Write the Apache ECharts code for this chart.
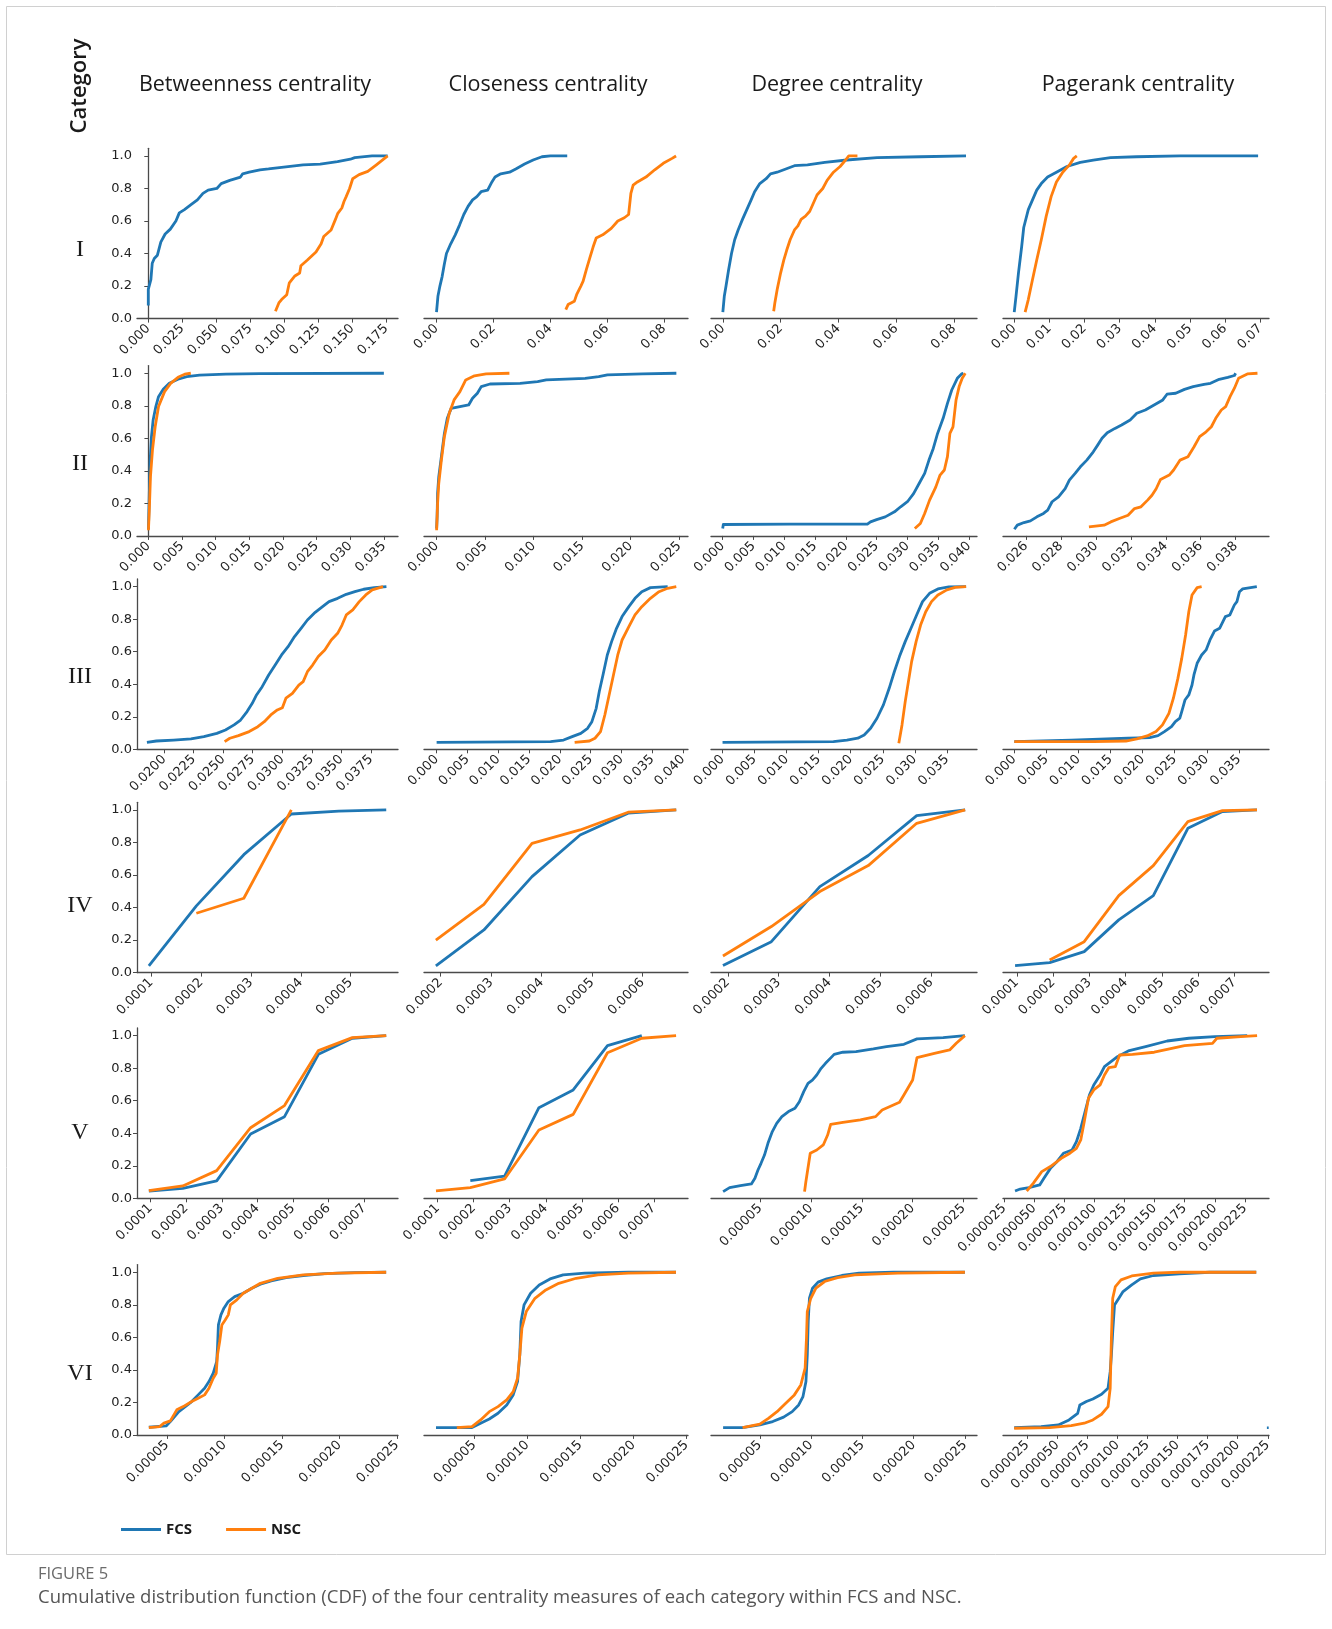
<!DOCTYPE html>
<html><head><meta charset="utf-8">
<script src="https://cdn.jsdelivr.net/npm/echarts@6/dist/echarts.min.js"></script>
<style>html,body{margin:0;padding:0;background:#fff}#c{width:1332px;height:1629px}</style>
</head><body><div id="c"></div><script>
const columnTitles = ['Betweenness centrality','Closeness centrality','Degree centrality','Pagerank centrality'];
const rowLabels = ['I','II','III','IV','V','VI'];
const seriesNames = ['FCS','NSC'];
const yTicks = [0,0.2,0.4,0.6,0.8,1.0];

// ---- tick label values ----
const ticksI1 = [0,0.025,0.05,0.075,0.1,0.125,0.15,0.175];
const ticksI2 = [0,0.02,0.04,0.06,0.08];
const ticksI3 = [0,0.02,0.04,0.06,0.08];
const ticksI4 = [0,0.01,0.02,0.03,0.04,0.05,0.06,0.07];
const ticksII1 = [0,0.005,0.01,0.015,0.02,0.025,0.03,0.035];
const ticksII2 = [0,0.005,0.01,0.015,0.02,0.025];
const ticksII3 = [0,0.005,0.01,0.015,0.02,0.025,0.03,0.035,0.04];
const ticksII4 = [0.026,0.028,0.03,0.032,0.034,0.036,0.038];
const ticksIII1 = [0.02,0.0225,0.025,0.0275,0.03,0.0325,0.035,0.0375];
const ticksIII2 = [0,0.005,0.01,0.015,0.02,0.025,0.03,0.035,0.04];
const ticksIII3 = [0,0.005,0.01,0.015,0.02,0.025,0.03,0.035];
const ticksIII4 = [0,0.005,0.01,0.015,0.02,0.025,0.03,0.035];
const ticksIV1 = [0.0001,0.0002,0.0003,0.0004,0.0005];
const ticksIV2 = [0.0002,0.0003,0.0004,0.0005,0.0006];
const ticksIV3 = [0.0002,0.0003,0.0004,0.0005,0.0006];
const ticksIV4 = [0.0001,0.0002,0.0003,0.0004,0.0005,0.0006,0.0007];
const ticksV1 = [0.0001,0.0002,0.0003,0.0004,0.0005,0.0006,0.0007];
const ticksV2 = [0.0001,0.0002,0.0003,0.0004,0.0005,0.0006,0.0007];
const ticksV3 = [0.00005,0.0001,0.00015,0.0002,0.00025];
const ticksV4 = [0.000025,0.00005,0.000075,0.0001,0.000125,0.00015,0.000175,0.0002,0.000225];
const ticksVI1 = [0.00005,0.0001,0.00015,0.0002,0.00025];
const ticksVI2 = [0.00005,0.0001,0.00015,0.0002,0.00025];
const ticksVI3 = [0.00005,0.0001,0.00015,0.0002,0.00025];
const ticksVI4 = [0.000025,0.00005,0.000075,0.0001,0.000125,0.00015,0.000175,0.0002,0.000225];

// ---- CDF data [value, cumulative share] ----
const fcsI1 = [[0,0.08],[0,0.18],[0.0019,0.24],[0.0029,0.34],[0.0044,0.37],[0.0067,0.39],[0.0092,0.47],[0.0124,0.52],[0.0162,0.55],[0.0203,0.6],[0.0228,0.65],[0.0266,0.67],[0.0314,0.7],[0.0361,0.73],[0.0402,0.77],[0.044,0.79],[0.0504,0.8],[0.0536,0.83],[0.0599,0.85],[0.0678,0.87],[0.0694,0.89],[0.0742,0.9],[0.0821,0.915],[0.0884,0.92],[0.098,0.93],[0.1138,0.945],[0.1264,0.95],[0.1391,0.965],[0.1486,0.98],[0.1518,0.99],[0.1645,1.0],[0.176,1.0]];
const nscI1 = [[0.0935,0.045],[0.096,0.096],[0.098,0.117],[0.1018,0.147],[0.1037,0.22],[0.1075,0.26],[0.1113,0.28],[0.1122,0.325],[0.117,0.36],[0.1233,0.41],[0.1271,0.46],[0.129,0.505],[0.1344,0.545],[0.1376,0.61],[0.1392,0.645],[0.1423,0.68],[0.1439,0.72],[0.1455,0.75],[0.148,0.8],[0.1503,0.86],[0.155,0.885],[0.1614,0.905],[0.1677,0.945],[0.176,1.0]];
const fcsI2 = [[0,0.04],[0.0005,0.137],[0.0012,0.2],[0.002,0.26],[0.0027,0.33],[0.0035,0.4],[0.005,0.46],[0.0066,0.515],[0.0081,0.575],[0.0096,0.64],[0.0111,0.69],[0.0127,0.73],[0.0142,0.75],[0.0157,0.78],[0.018,0.79],[0.0195,0.84],[0.0206,0.87],[0.0226,0.89],[0.0257,0.9],[0.0279,0.92],[0.031,0.95],[0.034,0.975],[0.0371,0.995],[0.0401,1.0],[0.046,1.0]];
const nscI2 = [[0.0455,0.055],[0.0463,0.086],[0.0485,0.106],[0.0493,0.147],[0.0508,0.2],[0.0516,0.23],[0.0527,0.3],[0.0539,0.37],[0.0551,0.44],[0.0562,0.495],[0.0585,0.515],[0.0615,0.555],[0.0638,0.6],[0.0661,0.62],[0.0676,0.64],[0.0684,0.77],[0.0692,0.82],[0.0707,0.84],[0.0737,0.87],[0.0768,0.915],[0.0798,0.955],[0.0829,0.985],[0.0843,1.0]];
const fcsI3 = [[0,0.04],[0.0005,0.137],[0.0011,0.2],[0.002,0.3],[0.003,0.4],[0.0041,0.485],[0.0053,0.545],[0.0068,0.61],[0.0083,0.67],[0.0098,0.73],[0.011,0.78],[0.0128,0.83],[0.015,0.86],[0.0165,0.89],[0.0188,0.9],[0.0218,0.92],[0.0248,0.94],[0.0293,0.945],[0.0353,0.96],[0.0429,0.975],[0.0534,0.99],[0.0684,0.995],[0.0842,1.0]];
const nscI3 = [[0.0176,0.045],[0.018,0.096],[0.0188,0.178],[0.02,0.28],[0.0211,0.36],[0.0221,0.42],[0.0233,0.485],[0.0248,0.545],[0.026,0.57],[0.0271,0.61],[0.0286,0.63],[0.0301,0.66],[0.0316,0.72],[0.0326,0.76],[0.0346,0.8],[0.0361,0.85],[0.0383,0.9],[0.0406,0.935],[0.0425,0.975],[0.0436,1.0],[0.0466,1.0]];
const fcsI4 = [[0,0.04],[0.0005,0.137],[0.0012,0.28],[0.0021,0.44],[0.0027,0.56],[0.004,0.67],[0.0052,0.73],[0.0064,0.79],[0.0077,0.83],[0.0095,0.87],[0.012,0.9],[0.015,0.935],[0.0188,0.96],[0.0225,0.975],[0.0274,0.99],[0.0348,0.995],[0.0472,1.0],[0.0694,1.0]];
const nscI4 = [[0.0031,0.04],[0.004,0.117],[0.0052,0.24],[0.0064,0.36],[0.0077,0.485],[0.0091,0.63],[0.0105,0.75],[0.012,0.84],[0.0138,0.9],[0.0157,0.945],[0.0169,0.985],[0.0178,1.0]];

const fcsII1 = [[0,0.041],[0.00013,0.261],[0.00026,0.466],[0.00045,0.61],[0.0007,0.713],[0.0011,0.795],[0.0015,0.856],[0.0022,0.901],[0.0031,0.938],[0.0044,0.963],[0.0057,0.979],[0.0076,0.988],[0.0115,0.994],[0.0166,0.998],[0.035,1.0]];
const nscII1 = [[0,0.035],[0.00013,0.158],[0.0003,0.363],[0.0006,0.528],[0.001,0.671],[0.0015,0.795],[0.0024,0.887],[0.0033,0.938],[0.0044,0.975],[0.0054,0.994],[0.0063,1.0]];
const fcsII2 = [[0,0.045],[0.00005,0.117],[0.0001,0.261],[0.00022,0.363],[0.00049,0.487],[0.0008,0.63],[0.0011,0.723],[0.0015,0.784],[0.0024,0.795],[0.0033,0.805],[0.0037,0.846],[0.0042,0.877],[0.0046,0.918],[0.0055,0.934],[0.0086,0.938],[0.0104,0.949],[0.0113,0.959],[0.0153,0.969],[0.0167,0.979],[0.0176,0.99],[0.0212,0.996],[0.0247,1.0]];
const nscII2 = [[0,0.035],[0.0001,0.2],[0.00022,0.322],[0.00049,0.466],[0.0008,0.61],[0.0013,0.754],[0.0018,0.836],[0.0024,0.887],[0.003,0.959],[0.0039,0.984],[0.0051,0.996],[0.0075,1.0]];
const fcsII3 = [[0,0.045],[0.0001,0.07],[0.0109,0.072],[0.0235,0.072],[0.024,0.086],[0.025,0.1],[0.0264,0.117],[0.0279,0.148],[0.0289,0.179],[0.03,0.21],[0.031,0.26],[0.0319,0.322],[0.0328,0.384],[0.0335,0.466],[0.0342,0.538],[0.0349,0.63],[0.0358,0.723],[0.0365,0.815],[0.0372,0.897],[0.0381,0.969],[0.0388,0.996],[0.0391,1.0]];
const nscII3 = [[0.0312,0.045],[0.0321,0.076],[0.0328,0.138],[0.0336,0.22],[0.0346,0.3],[0.0353,0.374],[0.036,0.405],[0.0365,0.487],[0.0369,0.63],[0.0374,0.67],[0.0377,0.68],[0.0379,0.836],[0.0384,0.918],[0.0389,0.969],[0.0394,1.0]];
const fcsII4 = [[0.02533,0.041],[0.0255,0.066],[0.02588,0.082],[0.02625,0.092],[0.02662,0.117],[0.027,0.138],[0.02724,0.158],[0.02749,0.21],[0.02786,0.24],[0.02824,0.29],[0.02848,0.343],[0.02881,0.384],[0.02911,0.425],[0.02948,0.466],[0.02985,0.517],[0.0301,0.558],[0.03035,0.6],[0.03065,0.634],[0.03109,0.661],[0.03147,0.682],[0.03196,0.713],[0.03234,0.754],[0.03283,0.774],[0.03333,0.805],[0.03383,0.836],[0.03407,0.871],[0.03457,0.877],[0.03507,0.901],[0.03557,0.918],[0.03619,0.932],[0.03656,0.938],[0.03706,0.963],[0.03755,0.975],[0.03793,0.986],[0.038,0.986],[0.038,1.0]];
const nscII4 = [[0.0296,0.055],[0.03047,0.066],[0.03085,0.086],[0.03134,0.107],[0.03184,0.127],[0.03221,0.168],[0.03258,0.179],[0.03296,0.22],[0.03321,0.25],[0.03345,0.29],[0.0337,0.347],[0.0342,0.374],[0.03445,0.405],[0.03482,0.466],[0.03527,0.487],[0.03562,0.548],[0.03594,0.61],[0.03631,0.64],[0.03661,0.671],[0.03686,0.723],[0.03718,0.774],[0.03743,0.795],[0.03768,0.856],[0.03793,0.908],[0.03817,0.969],[0.03867,0.996],[0.03925,1.0]];

const fcsIII1 = [[0.01854,0.043],[0.01934,0.051],[0.0208,0.057],[0.02227,0.064],[0.02336,0.078],[0.02446,0.098],[0.02519,0.119],[0.02592,0.15],[0.02647,0.18],[0.02702,0.232],[0.02746,0.283],[0.02782,0.334],[0.0283,0.385],[0.02885,0.457],[0.0294,0.518],[0.02994,0.58],[0.03049,0.631],[0.03104,0.693],[0.03159,0.744],[0.03213,0.795],[0.03279,0.842],[0.03341,0.877],[0.03396,0.908],[0.03469,0.928],[0.03542,0.953],[0.03615,0.969],[0.03689,0.984],[0.0378,0.994],[0.03882,1.0]];
const nscIII1 = [[0.02512,0.047],[0.02556,0.068],[0.02629,0.084],[0.0272,0.109],[0.02793,0.139],[0.02848,0.17],[0.02903,0.211],[0.02958,0.242],[0.03001,0.256],[0.03031,0.314],[0.03086,0.344],[0.0314,0.395],[0.03177,0.416],[0.03213,0.477],[0.03257,0.518],[0.03305,0.57],[0.0336,0.611],[0.03415,0.672],[0.03469,0.713],[0.03506,0.764],[0.03542,0.826],[0.03597,0.857],[0.03652,0.908],[0.03707,0.949],[0.03762,0.98],[0.03853,1.0]];
const fcsIII2 = [[0,0.043],[0.0185,0.047],[0.0206,0.057],[0.022,0.078],[0.0234,0.098],[0.0245,0.129],[0.0252,0.17],[0.0259,0.252],[0.0264,0.355],[0.027,0.457],[0.0277,0.58],[0.0284,0.662],[0.0292,0.744],[0.0301,0.816],[0.0312,0.877],[0.0322,0.928],[0.0333,0.969],[0.0347,0.994],[0.0375,1.0]];
const nscIII2 = [[0.0224,0.043],[0.0248,0.051],[0.0257,0.068],[0.0266,0.109],[0.0273,0.211],[0.028,0.334],[0.0287,0.457],[0.0294,0.58],[0.0301,0.672],[0.0312,0.754],[0.0322,0.826],[0.0333,0.877],[0.0347,0.928],[0.0361,0.969],[0.0375,0.99],[0.0389,1.0]];
const fcsIII3 = [[0,0.043],[0.0173,0.047],[0.0194,0.057],[0.0211,0.068],[0.0221,0.088],[0.0231,0.129],[0.0241,0.191],[0.0251,0.273],[0.026,0.375],[0.0268,0.477],[0.0276,0.57],[0.0285,0.662],[0.0294,0.744],[0.0304,0.836],[0.0312,0.908],[0.0323,0.959],[0.0336,0.986],[0.0353,0.998],[0.038,1.0]];
const nscIII3 = [[0.0275,0.037],[0.028,0.15],[0.0285,0.293],[0.029,0.416],[0.0295,0.539],[0.0302,0.662],[0.0309,0.764],[0.0317,0.846],[0.0326,0.908],[0.0336,0.949],[0.035,0.98],[0.0363,0.996],[0.038,1.0]];
const fcsIII4 = [[0,0.047],[0.0089,0.057],[0.0177,0.068],[0.0211,0.072],[0.0224,0.084],[0.0234,0.109],[0.0245,0.139],[0.0251,0.17],[0.0258,0.191],[0.0261,0.232],[0.0266,0.303],[0.0272,0.334],[0.0277,0.395],[0.028,0.457],[0.0285,0.529],[0.0292,0.58],[0.0299,0.611],[0.0305,0.672],[0.0312,0.727],[0.032,0.744],[0.0329,0.816],[0.0336,0.826],[0.0343,0.887],[0.0347,0.908],[0.0351,0.969],[0.0356,0.986],[0.0378,1.0]];
const nscIII4 = [[0,0.047],[0.0123,0.047],[0.0174,0.051],[0.0191,0.064],[0.0207,0.082],[0.0221,0.109],[0.0231,0.15],[0.0241,0.221],[0.0248,0.314],[0.0255,0.436],[0.0261,0.559],[0.0267,0.703],[0.0272,0.846],[0.0277,0.949],[0.0285,0.994],[0.0292,1.0]];

const fcsIV1 = [[0.0000952,0.041],[0.0001905,0.41],[0.0002857,0.725],[0.000381,0.975],[0.0004762,0.993],[0.0005714,1.0]];
const nscIV1 = [[0.0001905,0.365],[0.0002857,0.457],[0.000381,1.0]];
const fcsIV2 = [[0.0001905,0.041],[0.0002857,0.262],[0.000381,0.59],[0.0004762,0.846],[0.0005714,0.98],[0.0006667,1.0]];
const nscIV2 = [[0.0001905,0.2],[0.0002857,0.42],[0.000381,0.795],[0.0004762,0.877],[0.0005714,0.986],[0.0006667,1.0]];
const fcsIV3 = [[0.0001905,0.043],[0.0002857,0.19],[0.000381,0.529],[0.0004762,0.72],[0.0005714,0.965],[0.0006667,1.0]];
const nscIV3 = [[0.0001905,0.102],[0.0002857,0.283],[0.000381,0.498],[0.0004762,0.658],[0.0005714,0.918],[0.0006667,1.0]];
const fcsIV4 = [[0.0000952,0.043],[0.0001905,0.061],[0.0002857,0.129],[0.000381,0.324],[0.0004762,0.473],[0.0005714,0.887],[0.0006667,0.99],[0.0007619,1.0]];
const nscIV4 = [[0.0001905,0.078],[0.0002857,0.19],[0.000381,0.473],[0.0004762,0.658],[0.0005714,0.928],[0.0006667,0.996],[0.0007619,1.0]];

const fcsV1 = [[0.0000952,0.045],[0.0001905,0.061],[0.0002857,0.107],[0.000381,0.395],[0.0004762,0.502],[0.0005714,0.885],[0.0006667,0.984],[0.0007619,1.0]];
const nscV1 = [[0.0000952,0.047],[0.0001905,0.076],[0.0002857,0.17],[0.000381,0.434],[0.0004762,0.57],[0.0005714,0.908],[0.0006667,0.988],[0.0007619,1.0]];
const fcsV2 = [[0.0001905,0.109],[0.0002857,0.137],[0.000381,0.557],[0.0004762,0.666],[0.0005714,0.939],[0.0006667,1.0]];
const nscV2 = [[0.0000952,0.045],[0.0001905,0.066],[0.0002857,0.119],[0.000381,0.42],[0.0004762,0.516],[0.0005714,0.895],[0.0006667,0.984],[0.0007619,1.0]];
const fcsV3 = [[0.0000136,0.041],[0.00002,0.066],[0.0000307,0.078],[0.0000414,0.088],[0.0000449,0.123],[0.0000479,0.174],[0.0000509,0.215],[0.0000543,0.266],[0.0000577,0.338],[0.000062,0.41],[0.0000663,0.461],[0.0000714,0.502],[0.0000779,0.533],[0.0000843,0.553],[0.0000886,0.594],[0.0000929,0.656],[0.0000971,0.707],[0.0001014,0.727],[0.0001057,0.758],[0.00011,0.799],[0.0001143,0.83],[0.0001207,0.871],[0.0001228,0.885],[0.0001314,0.898],[0.0001443,0.902],[0.0001614,0.918],[0.0001743,0.932],[0.0001914,0.947],[0.0002043,0.98],[0.00023,0.988],[0.0002514,1.0]];
const nscV3 = [[0.0000937,0.041],[0.000095,0.102],[0.0000993,0.277],[0.0001057,0.297],[0.0001121,0.328],[0.0001164,0.389],[0.0001194,0.455],[0.0001314,0.467],[0.0001486,0.482],[0.0001636,0.502],[0.00017,0.543],[0.0001871,0.59],[0.0001914,0.635],[0.0002,0.727],[0.0002043,0.865],[0.0002214,0.891],[0.0002364,0.912],[0.0002429,0.953],[0.0002514,1.0]];
const fcsV4 = [[0.000034,0.045],[0.0000383,0.057],[0.0000455,0.066],[0.0000545,0.082],[0.000058,0.123],[0.0000634,0.184],[0.0000688,0.225],[0.0000742,0.277],[0.0000814,0.297],[0.000085,0.348],[0.0000886,0.43],[0.0000922,0.533],[0.0000958,0.635],[0.0000994,0.697],[0.0001047,0.758],[0.0001083,0.809],[0.0001137,0.84],[0.0001191,0.871],[0.0001281,0.906],[0.0001425,0.932],[0.0001604,0.967],[0.0001784,0.984],[0.0002,0.994],[0.0002269,1.0]];
const nscV4 = [[0.0000437,0.045],[0.0000491,0.092],[0.0000562,0.164],[0.0000634,0.195],[0.0000724,0.246],[0.0000796,0.277],[0.000085,0.307],[0.0000886,0.359],[0.0000915,0.471],[0.000095,0.615],[0.0000994,0.666],[0.0001047,0.697],[0.0001083,0.758],[0.0001119,0.803],[0.0001173,0.809],[0.0001209,0.881],[0.0001316,0.885],[0.0001496,0.898],[0.0001604,0.916],[0.0001748,0.939],[0.0001981,0.953],[0.0002017,0.984],[0.0002215,0.994],[0.0002351,1.0]];

const fcsVI1 = [[0.0000343,0.047],[0.0000493,0.055],[0.000053,0.082],[0.0000567,0.113],[0.0000604,0.143],[0.000066,0.174],[0.0000716,0.205],[0.0000772,0.246],[0.0000828,0.287],[0.0000866,0.328],[0.0000903,0.379],[0.0000933,0.451],[0.000094,0.533],[0.0000948,0.676],[0.000097,0.738],[0.0000996,0.779],[0.0001034,0.82],[0.000109,0.85],[0.0001164,0.871],[0.0001239,0.902],[0.0001313,0.926],[0.0001407,0.947],[0.0001537,0.967],[0.0001686,0.98],[0.0001873,0.992],[0.0002134,0.998],[0.0002407,1.0]];
const nscVI1 = [[0.0000343,0.045],[0.0000437,0.051],[0.0000474,0.072],[0.000053,0.086],[0.0000586,0.154],[0.0000642,0.174],[0.0000716,0.205],[0.0000772,0.225],[0.0000828,0.246],[0.0000866,0.287],[0.0000903,0.348],[0.0000929,0.379],[0.000094,0.492],[0.0000959,0.574],[0.0000978,0.676],[0.0001007,0.707],[0.0001034,0.738],[0.0001052,0.799],[0.0001108,0.83],[0.0001164,0.871],[0.0001239,0.902],[0.0001313,0.932],[0.0001463,0.963],[0.0001686,0.984],[0.0001985,0.994],[0.0002407,1.0]];
const fcsVI2 = [[0.0000141,0.045],[0.000048,0.045],[0.0000561,0.072],[0.0000643,0.098],[0.0000725,0.133],[0.0000807,0.184],[0.0000868,0.246],[0.0000909,0.328],[0.000093,0.492],[0.0000942,0.697],[0.000097,0.799],[0.0001032,0.871],[0.0001113,0.922],[0.0001215,0.959],[0.0001338,0.984],[0.0001542,0.994],[0.0001951,1.0],[0.0002401,1.0]];
const nscVI2 = [[0.0000337,0.045],[0.000048,0.051],[0.0000561,0.092],[0.0000643,0.143],[0.0000725,0.174],[0.0000807,0.215],[0.0000868,0.266],[0.0000909,0.348],[0.000093,0.492],[0.000095,0.656],[0.0000991,0.758],[0.0001073,0.84],[0.0001175,0.891],[0.0001297,0.932],[0.0001461,0.963],[0.0001665,0.984],[0.0001951,0.994],[0.0002401,1.0]];
const fcsVI3 = [[0.0000142,0.045],[0.0000332,0.045],[0.00005,0.061],[0.0000626,0.082],[0.0000732,0.109],[0.0000816,0.143],[0.0000879,0.184],[0.0000921,0.236],[0.000095,0.328],[0.0000963,0.492],[0.0000972,0.697],[0.0000984,0.84],[0.0001014,0.902],[0.0001068,0.939],[0.0001153,0.959],[0.00013,0.98],[0.0001468,0.994],[0.0001805,1.0],[0.00025,1.0]];
const nscVI3 = [[0.0000332,0.045],[0.00005,0.066],[0.0000584,0.102],[0.0000668,0.143],[0.0000753,0.195],[0.0000837,0.246],[0.00009,0.307],[0.0000942,0.41],[0.0000955,0.594],[0.0000963,0.758],[0.0000997,0.84],[0.0001047,0.902],[0.0001132,0.943],[0.0001258,0.967],[0.0001426,0.984],[0.0001847,0.994],[0.00025,1.0]];
const fcsVI4 = [[0.0000142,0.045],[0.0000365,0.051],[0.0000509,0.061],[0.0000598,0.092],[0.000067,0.133],[0.0000688,0.184],[0.0000742,0.205],[0.0000796,0.221],[0.0000868,0.25],[0.0000922,0.287],[0.000094,0.389],[0.000095,0.492],[0.0000961,0.635],[0.0000976,0.799],[0.0001012,0.84],[0.0001047,0.881],[0.0001119,0.922],[0.0001191,0.959],[0.0001299,0.98],[0.0001514,0.99],[0.0001766,1.0],[0.0002154,1.0]];
const fcsVI4Outlier = [[0.000225,0.036],[0.000225,0.052]];
const nscVI4 = [[0.0000142,0.041],[0.0000437,0.045],[0.0000616,0.057],[0.0000724,0.072],[0.0000796,0.092],[0.0000868,0.127],[0.0000922,0.174],[0.000094,0.287],[0.000095,0.594],[0.0000961,0.84],[0.0000983,0.912],[0.000103,0.953],[0.0001119,0.977],[0.0001299,0.994],[0.0001514,1.0],[0.0002154,1.0]];

// ---- panels (row, col): data, x extent, ticks, label decimals ----
const panels = [
  [fcsI1,nscI1,[-0.0083,0.1836],ticksI1,3],[fcsI2,nscI2,[-0.0044,0.0885],ticksI2,2],[fcsI3,nscI3,[-0.0041,0.088],ticksI3,2],[fcsI4,nscI4,[-0.0032,0.0725],ticksI4,2],
  [fcsII1,nscII1,[-0.0017,0.0371],ticksII1,3],[fcsII2,nscII2,[-0.0013,0.0259],ticksII2,3],[fcsII3,nscII3,[-0.0019,0.0413],ticksII3,3],[fcsII4,nscII4,[0.02468,0.03991],ticksII4,3],
  [fcsIII1,nscIII1,[0.0177,0.0398],ticksIII1,4],[fcsIII2,nscIII2,[-0.00205,0.0408],ticksIII2,3],[fcsIII3,nscIII3,[-0.0018,0.0397],ticksIII3,3],[fcsIII4,nscIII4,[-0.00176,0.0397],ticksIII4,3],
  [fcsIV1,nscIV1,[0.0000714,0.000595],ticksIV1,4],[fcsIV2,nscIV2,[0.000167,0.00069],ticksIV2,4],[fcsIV3,nscIV3,[0.000167,0.00069],ticksIV3,4],[fcsIV4,nscIV4,[0.0000619,0.000795],ticksIV4,4],
  [fcsV1,nscV1,[0.0000619,0.000795],ticksV1,4],[fcsV2,nscV2,[0.0000619,0.000795],ticksV2,4],[fcsV3,nscV3,[0.0000017,0.0002633],ticksV3,5],[fcsV4,nscV4,[0.000024,0.000245],ticksV4,6],
  [fcsVI1,nscVI1,[0.000024,0.000251],ticksVI1,5],[fcsVI2,nscVI2,[0.0000028,0.0002514],ticksVI2,5],[fcsVI3,nscVI3,[0.0000024,0.0002618],ticksVI3,5],[fcsVI4,nscVI4,[0.0000049,0.000226],ticksVI4,6]
];

// ---- layout ----
const colLeft = [137, 424, 711, 1003];
const colWidth = [261, 264, 266, 266];
const rowTop = [148.3, 365.6, 579, 802.3, 1028, 1264.6];
const rowHeight = 170.3;
const colors = ['#1f77b4', '#ff7f0e'];
const axisColor = '#4a4a4a';
const tickFont = 'DejaVu Sans';

const grid = [], xAxis = [], yAxis = [], series = [];
panels.forEach((p, i) => {
  const r = Math.floor(i / 4), c = i % 4;
  grid.push({left: colLeft[c], top: rowTop[r], width: colWidth[c], height: rowHeight, containLabel: false});
  const dec = p[4];
  xAxis.push({
    type: 'value', gridIndex: i, min: p[2][0], max: p[2][1],
    axisLine: {show: true, onZero: false, lineStyle: {color: axisColor, width: 1.3}},
    axisTick: {show: true, length: 4, customValues: p[3], lineStyle: {color: axisColor, width: 1}},
    axisLabel: {customValues: p[3], rotate: 45, margin: 8, fontSize: 13, color: '#222', fontFamily: tickFont,
      formatter: v => Number(v).toFixed(dec)},
    splitLine: {show: false}
  });
  yAxis.push({
    type: 'value', gridIndex: i, min: 0, max: 1.047, show: c === 0,
    axisLine: {show: true, lineStyle: {color: axisColor, width: 1.3}},
    axisTick: {show: true, length: 4, customValues: yTicks, lineStyle: {color: axisColor, width: 1}},
    axisLabel: {customValues: yTicks, margin: 5, fontSize: 13, color: '#222', fontFamily: tickFont,
      formatter: v => Number(v).toFixed(1)},
    splitLine: {show: false}
  });
  [p[0], p[1]].forEach((d, k) => {
    series.push({
      name: seriesNames[k], type: 'line', xAxisIndex: i, yAxisIndex: i, data: d,
      symbol: 'none', showSymbol: false, smooth: false, z: 2 + k,
      lineStyle: {color: colors[k], width: 2.8, join: 'round'}, itemStyle: {color: colors[k]},
      emphasis: {disabled: true}
    });
  });
});
series.push({name: 'FCS', type: 'line', xAxisIndex: 23, yAxisIndex: 23, data: fcsVI4Outlier,
  symbol: 'none', lineStyle: {color: colors[0], width: 1.8}, itemStyle: {color: colors[0]}, z: 2});

const graphic = [
  {type: 'rect', shape: {x: 6.5, y: 6.5, width: 1319, height: 1548}, style: {fill: 'none', stroke: '#d0d0d0', lineWidth: 1}, silent: true},
  {type: 'text', x: 80, y: 86, rotation: Math.PI / 2, style: {text: 'Category', font: '600 22px "Open Sans"', fill: '#1a1a1a', textAlign: 'center', textVerticalAlign: 'middle'}}
];
const titleX = [255, 548, 837, 1138];
columnTitles.forEach((t, c) => graphic.push({type: 'text', x: titleX[c], y: 85,
  style: {text: t, font: '21.5px "Open Sans"', fill: '#1a1a1a', textAlign: 'center', textVerticalAlign: 'middle'}}));
const rowLabelY = [250, 464, 677, 906, 1133, 1374];
rowLabels.forEach((t, r) => graphic.push({type: 'text', x: 80, y: rowLabelY[r],
  style: {text: t, font: '24px "Liberation Serif"', fill: '#1a1a1a', textAlign: 'center', textVerticalAlign: 'middle'}}));
graphic.push({type: 'text', x: 38, y: 1574, style: {text: 'FIGURE 5', font: '500 16.5px "Open Sans"', fill: '#6b6b6b', textVerticalAlign: 'middle'}});
graphic.push({type: 'text', x: 38, y: 1598, style: {text: 'Cumulative distribution function (CDF) of the four centrality measures of each category within FCS and NSC.', font: '18.5px "Open Sans"', fill: '#555', textVerticalAlign: 'middle'}});

const chart = echarts.init(document.getElementById('c'), null, {renderer: 'canvas'});
chart.setOption({
  animation: false,
  backgroundColor: '#fff',
  grid, xAxis, yAxis, series, graphic,
  legend: {data: [{name: 'FCS', icon: 'rect'}, {name: 'NSC', icon: 'rect'}], left: 116, top: 1517, itemWidth: 40, itemHeight: 3, itemGap: 34,
    textStyle: {fontWeight: 'bold', fontSize: 15, fontFamily: 'Open Sans', color: '#1a1a1a'}, selectedMode: false}
});
</script></body></html>
